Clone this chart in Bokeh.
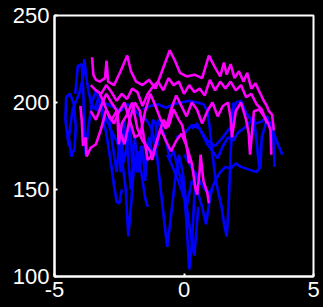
from bokeh.plotting import figure
from bokeh.models import FixedTicker, Range1d
from bokeh.embed import file_html
from bokeh.resources import INLINE

x_ticks = [-5, 0, 5]
y_ticks = [100, 150, 200, 250]

blue_xs = [
    [-4.45,-4.58,-4.55,-4.4,-4.25,-4.18,-4.22,-4.35,-4.45,-4.3,-4.05,-3.9,-3.85,-3.75,-3.6,-3.45,-3.3,-3.15,-3.0,-2.85,-2.7,-2.6,-2.5,-2.4],
    [-4.2,-4.1,-3.95,-3.9,-3.85,-3.8,-3.7,-3.55,-3.4,-3.25,-3.05,-2.85,-2.6,-2.4,-2.25,-2.15,-2.05,-1.95,-1.8,-1.65,-1.5,-1.4],
    [-3.4,-3.2,-2.95,-2.7,-2.45,-2.2,-1.95,-1.7,-1.45,-1.25,-1.05,-0.9,-0.75,-0.65,-0.5,-0.35,-0.2,-0.05,0.1,0.25,0.4,0.55],
    [-2.9,-2.75,-2.6,-2.45,-2.35,-2.2,-2.05,-1.95,-1.8,-1.65,-1.5,-1.35,-1.2,-1.0,-0.85,-0.7,-0.55,-0.4,-0.2,0.0,0.1,0.2,0.3,0.45],
    [-1.6,-1.3,-1.0,-0.7,-0.4,-0.1,0.2,0.5,0.75,0.9,1.0,1.1,1.2,1.3,1.45,1.55,1.65,1.72,1.8,1.9],
    [-0.3,0.0,0.3,0.6,0.9,1.2,1.5,1.8,2.0,2.2,2.4,2.6,2.8,3.0,3.2,3.4,3.6,3.8],
    [0.0,0.2,0.4,0.6,0.8,1.0,1.2,1.4,1.6,1.8,2.0,2.2,2.4,2.6,2.8,2.95,3.0,3.2,3.4,3.47,3.5],
    [0.3,0.5,0.7,0.9,1.1,1.3,1.5,1.7,1.9,2.1,2.3,2.5,2.7,2.8,2.9],
    [-2.6,-2.5,-2.45,-2.3,-2.2,-2.1,-2.0,-1.9,-1.75,-1.6,-1.5,-1.4,-1.3,-1.2,-1.1,-1.0],
    [-0.65,-0.5,-0.3,-0.1,0.1,0.3,0.5,0.7,0.85,1.0,1.1],
]
blue_ys = [
    [175,190,203,205,199,186,174,169,180,196,205,214,225,212,200,196,203,193,182,168,152,143,142,150],
    [205,221,222,210,190,170,185,200,207,200,192,185,178,168,150,123,140,160,172,160,145,140],
    [195,200,199,197,195,199,197,192,190,185,170,150,130,117,135,155,170,160,140,125,112,140],
    [193,175,160,185,165,175,150,170,160,175,162,180,168,190,185,178,168,172,160,150,130,104,118,160],
    [196,198,199,197,199,200,201,200,199,195,185,170,158,150,140,130,123,140,170,200],
    [180,182,187,185,178,175,180,186,200,201,194,190,188,189,192,185,177,170],
    [170,165,160,155,150,148,155,160,163,162,165,163,162,161,160,163,180,190,187,175,163],
    [185,188,182,176,172,168,175,180,178,183,185,188,191,178,163],
    [197,185,160,190,170,195,165,180,160,175,155,178,172,190,188,175],
    [170,165,158,150,140,155,150,140,130,145,151],
]

magenta_xs = [
    [-3.55,-3.5,-3.4,-3.25,-3.05,-2.99,-2.93,-2.7,-2.45,-2.19,-2.05,-1.85,-1.6,-1.35,-1.1,-0.85,-0.55,-0.35,-0.15,0.1,0.4,0.7,0.96,1.2,1.4,1.54,1.65,1.8,1.95,2.12,2.3,2.44,2.6,2.76,2.95,3.08,3.2,3.28,3.4,3.47],
    [-3.6,-3.4,-3.2,-3.0,-2.8,-2.6,-2.4,-2.2,-2.0,-1.8,-1.6,-1.4,-1.2,-1.0,-0.8,-0.6,-0.4,-0.2,0.0,0.2,0.4,0.6,0.8,1.0,1.2,1.4,1.6,1.8,2.0,2.2,2.4,2.6,2.8,3.0,3.2],
    [-4.0,-3.95,-3.9,-3.8,-3.76,-3.6,-3.4,-3.2,-3.0,-2.8,-2.6,-2.5,-2.3,-2.1,-1.9,-1.7,-1.55,-1.4,-1.2,-1.0,-0.8,-0.6,-0.4,-0.2,-0.07,0.1,0.3,0.45,0.51,0.6,0.64,0.75,0.9,0.96],
    [-3.25,-3.1,-2.9,-2.7,-2.5,-2.3,-2.1,-1.9,-1.68,-1.5,-1.3,-1.1,-0.9,-0.7,-0.5,-0.3,-0.1,0.1,0.3,0.5,0.7,0.9,1.1,1.3,1.5,1.7,1.8,1.85,2.0,2.2,2.4,2.5,2.55,2.7,2.9,3.1,3.25,3.34,3.37],
    [-3.6,-3.4,-3.2,-3.0,-2.8,-2.58,-2.52,-2.4,-2.2,-2.0,-1.8,-1.6,-1.45,-1.3,-1.23,-1.1,-0.9,-0.7,-0.5,-0.3,-0.1,0.1,0.2],
]
magenta_ys = [
    [226,216,213,212,214,224,212,210,218,227,218,212,210,213,208,218,230,224,217,215,216,214,227,220,215,223,216,222,214,218,212,217,208,211,205,201,198,195,193,184],
    [210,207,205,210,206,201,205,202,208,206,198,205,209,212,207,214,210,212,205,210,206,208,204,213,207,212,208,212,207,210,203,205,199,196,188],
    [198,190,175,180,169,174,176,185,196,190,195,185,176,190,200,195,180,167,170,180,190,186,196,190,187,175,165,150,147,160,170,155,148,142],
    [205,200,192,188,195,200,190,180,182,195,205,198,190,185,196,204,198,192,200,196,188,195,200,192,198,200,191,180,195,200,190,182,170,195,196,192,188,184,170],
    [195,190,198,205,200,195,176,188,193,200,185,178,175,172,167,175,185,178,172,178,182,175,165],
]

p = figure(width=323, height=307, output_backend="svg", toolbar_location=None,
           x_range=Range1d(-5, 5), y_range=Range1d(100, 250),
           min_border_left=54, min_border_right=10, min_border_top=15, min_border_bottom=31)
p.background_fill_color = "black"
p.border_fill_color = "black"
p.outline_line_color = "white"
p.outline_line_width = 2
p.xgrid.visible = False
p.ygrid.visible = False

p.multi_line(blue_xs, blue_ys, line_color="#0000FF", line_width=2.6)
p.multi_line(magenta_xs, magenta_ys, line_color="#FF00FF", line_width=2.6)

for ax in (p.xaxis[0], p.yaxis[0]):
    ax.axis_line_color = "white"
    ax.axis_line_width = 2
    ax.major_tick_line_color = "white"
    ax.major_tick_line_width = 2
    ax.major_tick_in = 3
    ax.major_tick_out = 0
    ax.minor_tick_line_color = None
    ax.major_label_text_color = "white"
    ax.major_label_text_font = "Liberation Sans"
    ax.major_label_text_font_size = "22px"
p.xaxis[0].ticker = FixedTicker(ticks=x_ticks)
p.yaxis[0].ticker = FixedTicker(ticks=y_ticks)
p.xaxis[0].major_label_overrides = {t: str(t) for t in x_ticks}
p.xaxis[0].major_label_standoff = 5
p.yaxis[0].major_label_standoff = 5

html = file_html(p, INLINE)
html = html.replace("<head>", "<head><style>html,body{background:black;margin:0;padding:0;}</style>", 1)
open("out.html", "w").write(html)
